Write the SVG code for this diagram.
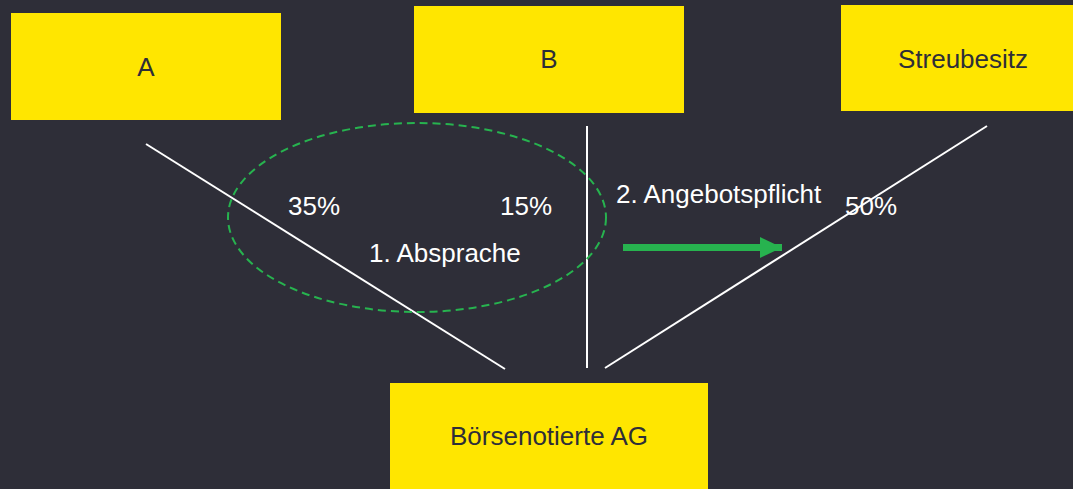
<svg xmlns="http://www.w3.org/2000/svg" width="1073" height="489" viewBox="0 0 1073 489">
  <style>
    .box { fill: #FFE600; }
    .lbl { font-family: "Liberation Sans", Arial, sans-serif; font-size: 26px; fill: #2E2E38; text-anchor: middle; }
    .wt { font-family: "Liberation Sans", Arial, sans-serif; font-size: 26px; fill: #FFFFFF; }
    .ln { stroke: #FFFFFF; stroke-width: 2; fill: none; }
  </style>
  <defs>
    <marker id="ah" markerWidth="22" markerHeight="21" refX="22" refY="10.5" orient="auto" markerUnits="userSpaceOnUse">
      <path d="M0,0 L22,10.5 L0,21 Z" fill="#27B34F"/>
    </marker>
  </defs>
  <rect width="1073" height="489" fill="#2E2E38"/>

  <g id="connectors">
    <line class="ln" x1="146" y1="144" x2="505" y2="369"/>
    <line class="ln" x1="587" y1="126" x2="587" y2="368"/>
    <line class="ln" x1="987" y1="126" x2="605" y2="368"/>
    <ellipse cx="417" cy="217.5" rx="189" ry="94.5" fill="none" stroke="#27B34F" stroke-width="2" stroke-dasharray="8 5"/>
    <line x1="623" y1="247.5" x2="782" y2="247.5" stroke="#27B34F" stroke-width="7" marker-end="url(#ah)"/>
  </g>

  <g id="labels">
    <text class="wt" x="288" y="215">35%</text>
    <text class="wt" x="500" y="215">15%</text>
    <text class="wt" x="369" y="262">1. Absprache</text>
    <text class="wt" x="616" y="203">2. Angebotspflicht</text>
    <text class="wt" x="845" y="215">50%</text>
  </g>

  <g id="node-a">
    <rect class="box" x="11" y="13" width="270" height="107"/>
    <text class="lbl" x="146" y="76">A</text>
  </g>
  <g id="node-b">
    <rect class="box" x="414" y="6" width="270" height="107"/>
    <text class="lbl" x="549" y="68">B</text>
  </g>
  <g id="node-streubesitz">
    <rect class="box" x="841" y="5" width="270" height="106"/>
    <text class="lbl" x="963" y="68">Streubesitz</text>
  </g>
  <g id="node-ag">
    <rect class="box" x="390" y="383" width="318" height="110"/>
    <text class="lbl" x="549" y="445">Börsenotierte AG</text>
  </g>
</svg>
